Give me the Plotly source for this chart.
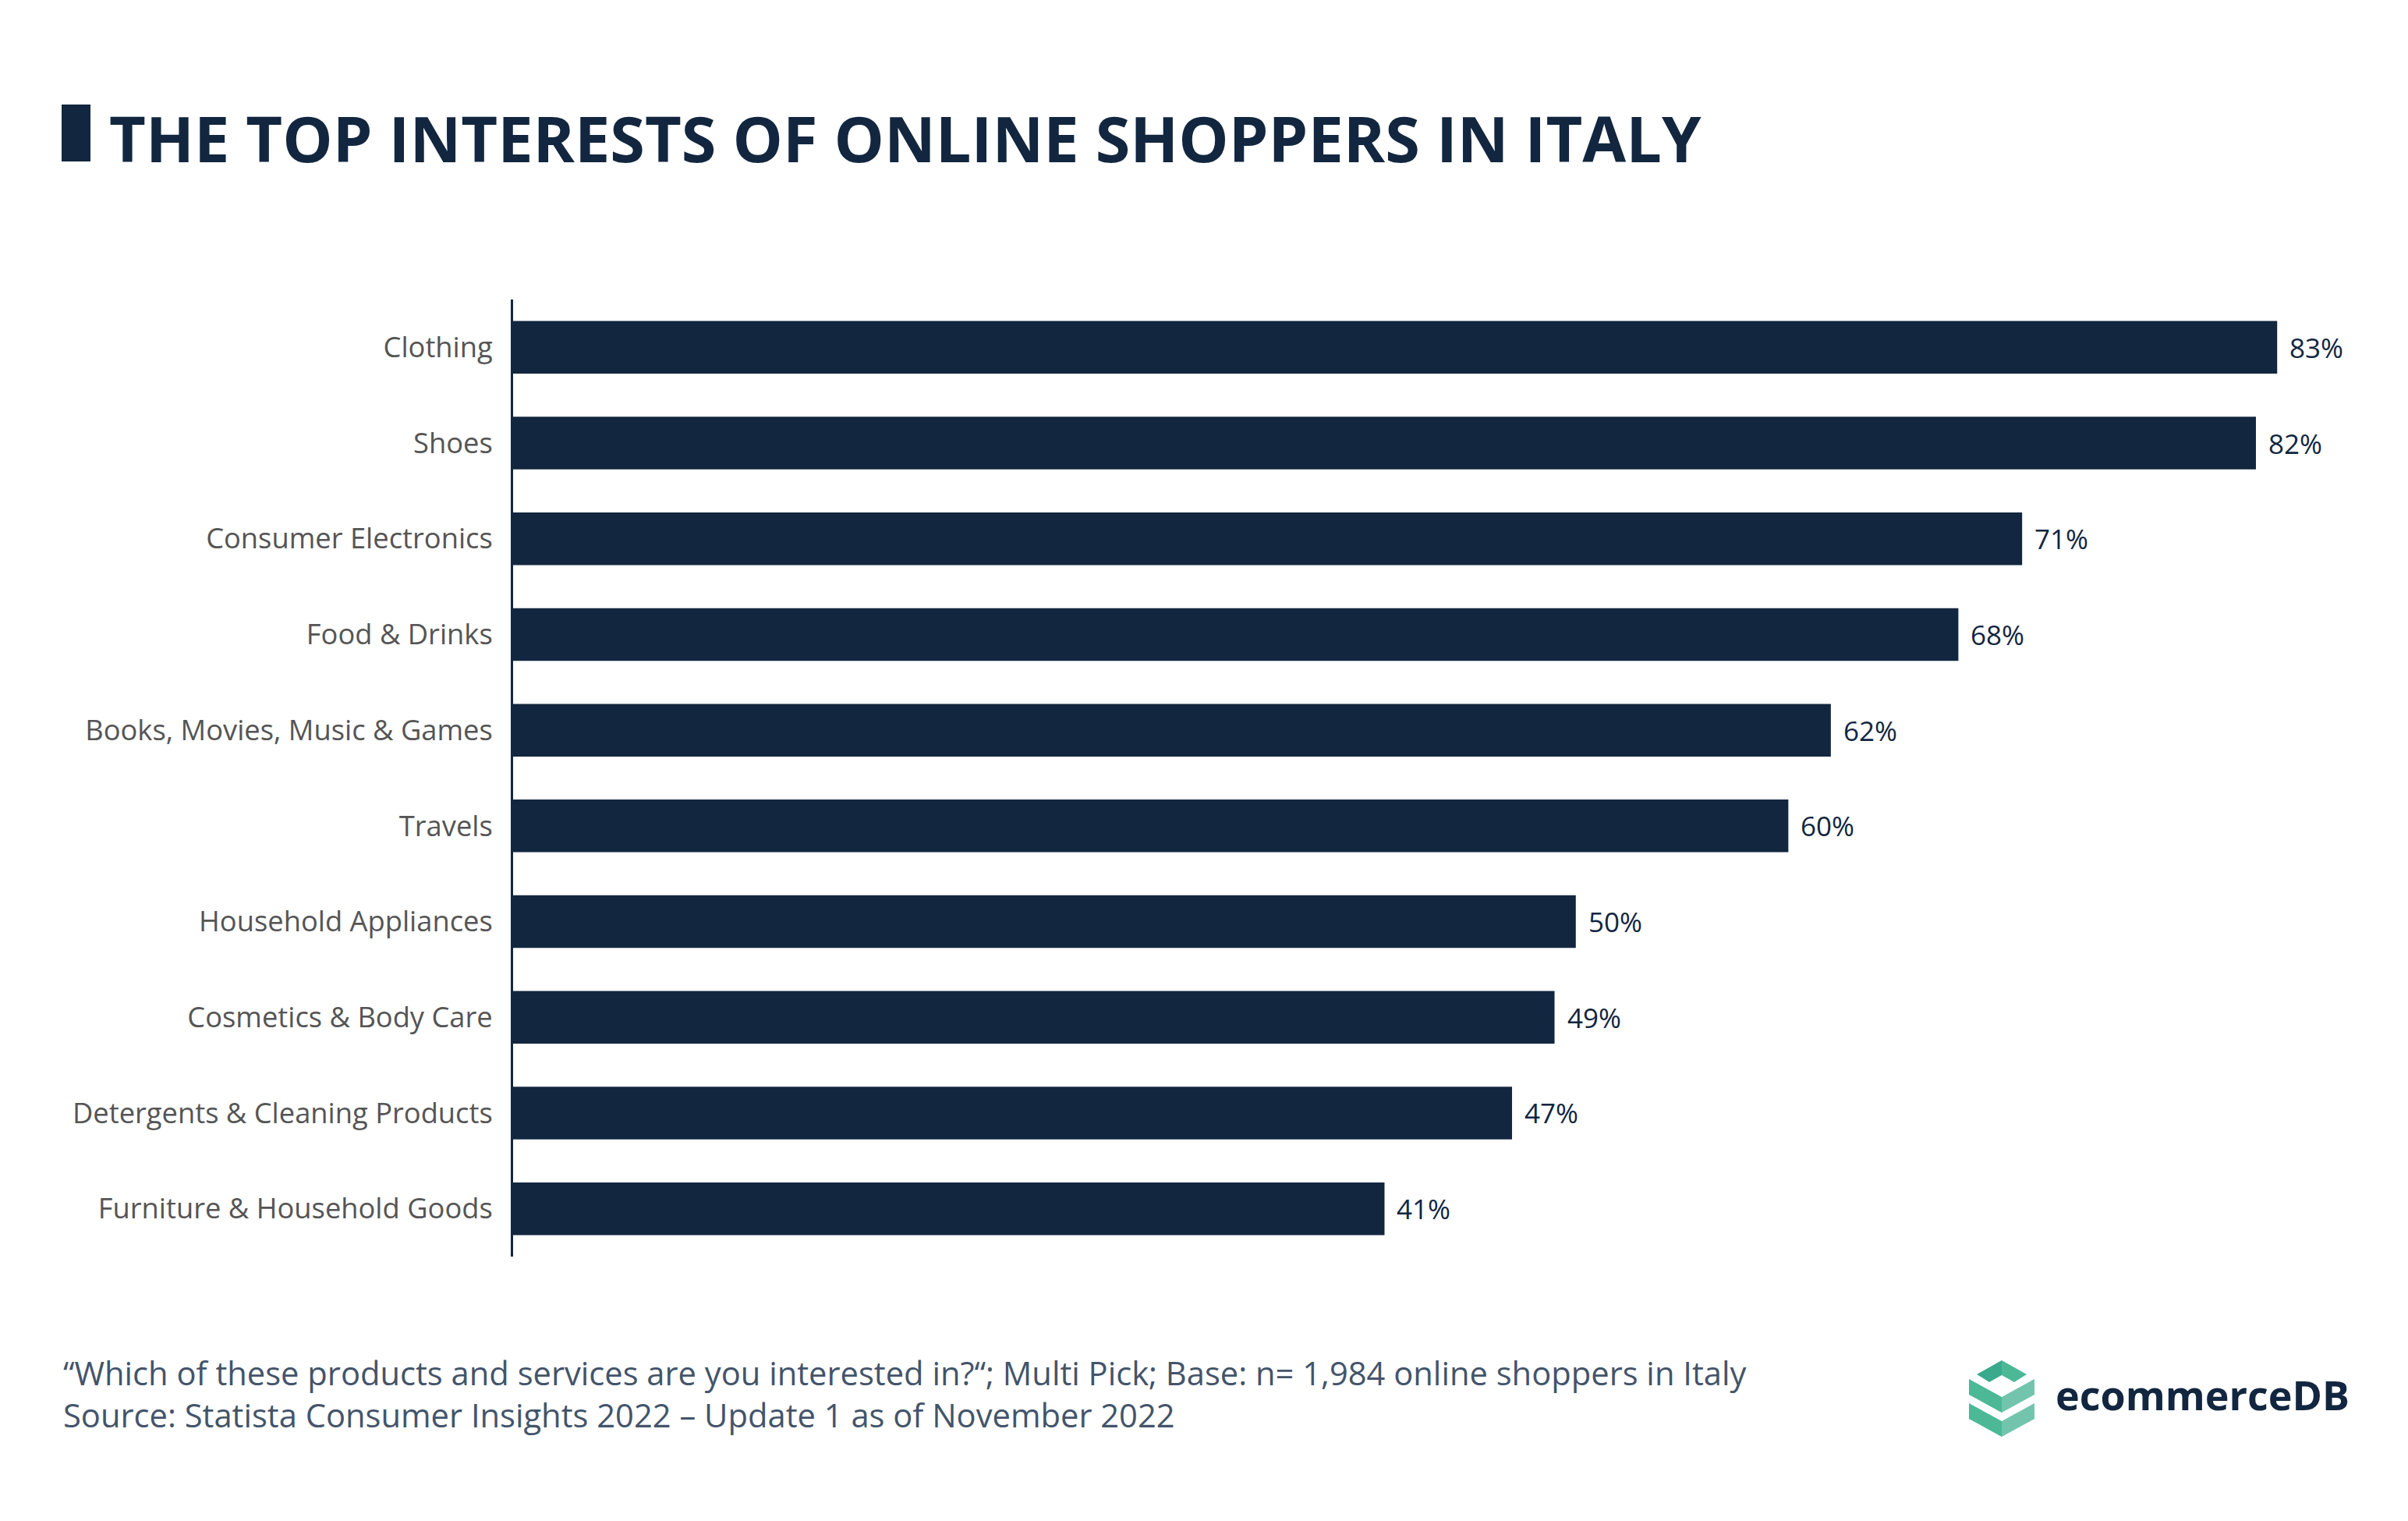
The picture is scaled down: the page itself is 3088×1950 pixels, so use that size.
import plotly.graph_objects as go

# the page puts the figure 8px in from the top-left corner
OFF = 8
W, H = 3088 - OFF, 1950 - OFF
L, R, T, B = 658 - OFF, 86, 384 - OFF, 339

NAVY = "#12263f"

categories = [
    "Clothing",
    "Shoes",
    "Consumer Electronics",
    "Food & Drinks",
    "Books, Movies, Music & Games",
    "Travels",
    "Household Appliances",
    "Cosmetics & Body Care",
    "Detergents & Cleaning Products",
    "Furniture & Household Goods",
]
shares = [83, 82, 71, 68, 62, 60, 50, 49, 47, 41]

title = "THE TOP INTERESTS OF ONLINE SHOPPERS IN ITALY"
note = "“Which of these products and services are you interested in?“; Multi Pick; Base: n= 1,984 online shoppers in Italy"
source = "Source: Statista Consumer Insights 2022 – Update 1 as of November 2022"


# screen pixel -> paper helpers for the decoration around the plot
def px(x):
    return (x - OFF - L) / (W - L - R)


def py(y):
    return (H - B - (y - OFF)) / (H - T - B)


fig = go.Figure()
fig.add_trace(
    go.Bar(
        x=shares,
        y=categories,
        orientation="h",
        marker=dict(color=NAVY, line=dict(width=0)),
        hoverinfo="skip",
    )
)

# value labels next to the bars
for c, v in zip(categories, shares):
    fig.add_annotation(
        x=v, y=c, xref="x", yref="y", text=f"{v}%", showarrow=False,
        xanchor="left", yanchor="middle", xshift=14,
        font=dict(family="Open Sans", size=35, color=NAVY),
    )

fig.update_layout(
    width=W,
    height=H,
    margin=dict(l=L, r=R, t=T, b=B, pad=0),
    paper_bgcolor="white",
    plot_bgcolor="white",
    showlegend=False,
    bargap=0.45,
    font=dict(family="Open Sans", color="#595959"),
)
fig.update_xaxes(range=[0, 86], visible=False, showgrid=False, zeroline=False)
fig.update_yaxes(
    categoryorder="array",
    categoryarray=categories,
    autorange="reversed",
    showline=True,
    linecolor=NAVY,
    linewidth=3,
    showgrid=False,
    zeroline=False,
    ticks="",
    ticklabelstandoff=16,
    tickfont=dict(family="Open Sans", size=36.3, color="#555555"),
)

# title with its small block marker
fig.add_shape(
    type="rect", xref="paper", yref="paper",
    x0=px(79), x1=px(116), y0=py(207), y1=py(134),
    fillcolor=NAVY, line=dict(width=0),
)
fig.add_annotation(
    x=px(138), y=py(176), xref="paper", yref="paper", text=f"<b>{title}</b>",
    showarrow=False, xanchor="left", yanchor="middle",
    font=dict(family="Open Sans", size=81, color=NAVY),
)

# footer (question + source)
fig.add_annotation(
    x=px(79), y=py(1786), xref="paper", yref="paper", text=f"{note}<br>{source}",
    showarrow=False, xanchor="left", yanchor="middle", align="left",
    font=dict(family="Open Sans", size=41.7, color="#44546a"),
)

# ecommerceDB logo
fig.add_annotation(
    x=px(2634), y=py(1787), xref="paper", yref="paper", text="<b>ecommerceDB</b>",
    showarrow=False, xanchor="left", yanchor="middle",
    font=dict(family="Open Sans", size=52, color=NAVY),
)


def poly(points, color):
    d = "M " + " L ".join(f"{px(x):.5f},{py(y):.5f}" for x, y in points) + " Z"
    fig.add_shape(type="path", xref="paper", yref="paper", path=d,
                  fillcolor=color, line=dict(width=0))


cx = 2567
# top chevron
poly([(2535, 1762), (cx, 1744), (cx, 1763), (2551, 1772)], "#3aaa8c")
poly([(cx, 1744), (2599, 1762), (2583, 1772), (cx, 1763)], "#4cb896")
# two stacked bands
for dy in (0, 31):
    poly([(2525, 1768 + dy), (cx, 1791 + dy), (cx, 1811 + dy), (2525, 1788 + dy)], "#4cb896")
    poly([(cx, 1791 + dy), (2609, 1768 + dy), (2609, 1788 + dy), (cx, 1811 + dy)], "#72c4ad")

fig.write_html("out.html")
